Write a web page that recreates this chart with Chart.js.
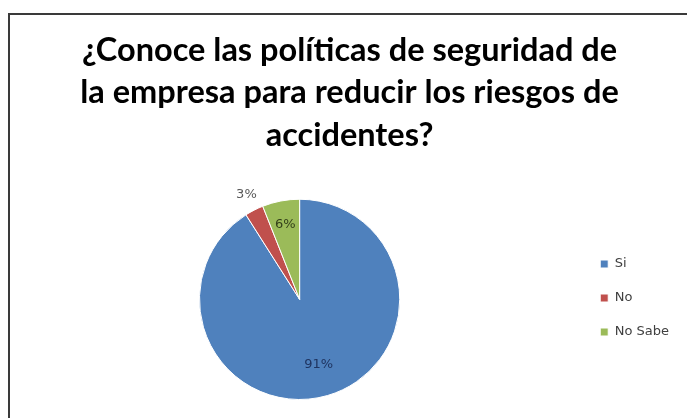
<!DOCTYPE html>
<html>
<head>
<meta charset="utf-8">
<script src="https://cdn.jsdelivr.net/npm/chart.js@4.4.1/dist/chart.umd.min.js"></script>
<style>
  html, body { margin: 0; padding: 0; background: #fff; }
  #frame { position: absolute; left: 8px; top: 13px; width: 700px; height: 420px; border: 2px solid #3a3a3a; box-sizing: border-box; }
  #wrap { position: absolute; left: 0; top: 0; width: 687px; height: 418px; }
</style>
</head>
<body>
<div id="frame"></div>
<div id="wrap"><canvas id="pie"></canvas></div>
<script>
const categories = ["Si", "No", "No Sabe"];
const values = [91, 3, 6];
const colors = ["#4F81BD", "#C0504D", "#9BBB59"];
const labelColors = ["#1F3460", "#595959", "#33401A"];
const titleLines = ["¿Conoce las políticas de seguridad de", "la empresa para reducir los riesgos de", "accidentes?"];

// percentage labels drawn at the arcs' own positions
const pctLabels = {
    id: "pctLabels",
    afterDatasetsDraw(chart) {
        const ctx = chart.ctx;
        const meta = chart.getDatasetMeta(0);
        const total = values.reduce((a, b) => a + b, 0);
        meta.data.forEach((arc, i) => {
            const mid = (arc.startAngle + arc.endAngle) / 2;
            const f = i === 1 ? 1.17 : (i === 0 ? 0.68 : 0.76);
            const x = arc.x + Math.cos(mid) * arc.outerRadius * f;
            const y = arc.y + Math.sin(mid) * arc.outerRadius * f;
            ctx.save();
            ctx.font = "13px 'DejaVu Sans'";
            ctx.fillStyle = labelColors[i];
            ctx.textAlign = "center";
            ctx.textBaseline = "middle";
            ctx.fillText(Math.round(values[i] / total * 100) + "%", x, y);
            ctx.restore();
        });
    }
};

new Chart(document.getElementById("pie"), {
    type: "pie",
    data: {
        labels: categories,
        datasets: [{
            data: values,
            backgroundColor: colors,
            borderColor: "#ffffff",
            borderWidth: 1
        }]
    },
    options: {
        responsive: true,
        maintainAspectRatio: false,
        animation: false,
        layout: { padding: { top: 0, bottom: 18, left: 20, right: 8 } },
        plugins: {
            title: {
                display: true,
                text: titleLines,
                color: "#000000",
                font: { size: 32.5, family: "Lato", weight: "bold", lineHeight: 1.31 },
                padding: { top: 29, bottom: 42 }
            },
            legend: {
                position: "right",
                title: { display: true, text: " ", font: { size: 10, lineHeight: 1 }, padding: { top: 186, bottom: 0 } },
                labels: {
                    boxWidth: 8,
                    boxHeight: 8,
                    padding: 21,
                    color: "#404040",
                    font: { size: 13, family: "DejaVu Sans" }
                }
            },
            tooltip: { enabled: false }
        }
    },
    plugins: [pctLabels]
});
</script>
</body>
</html>
